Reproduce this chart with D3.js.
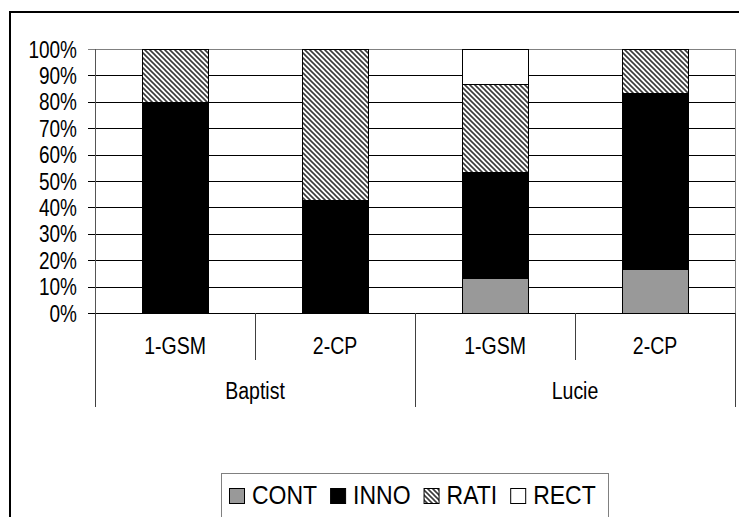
<!DOCTYPE html>
<html>
<head>
<meta charset="utf-8">
<script src="https://cdn.jsdelivr.net/npm/d3@7"></script>
<style>
  html, body { margin: 0; padding: 0; background: #fff; }
  svg { display: block; }
  text { font-family: "Liberation Sans", Arial, sans-serif; fill: #000; }
</style>
</head>
<body>
<svg id="chart" width="739" height="517"></svg>
<script>
// ---- data ----
const groups = ["Baptist", "Baptist", "Lucie", "Lucie"];
const subcats = ["1-GSM", "2-CP", "1-GSM", "2-CP"];
const groupNames = ["Baptist", "Lucie"];
const seriesNames = ["CONT", "INNO", "RATI", "RECT"];
const CONT = [0, 0, 13.3, 16.7];
const INNO = [80, 42.9, 40, 66.7];
const RATI = [20, 57.1, 33.4, 16.6];
const RECT = [0, 0, 13.3, 0];
const yTicks = [0, 10, 20, 30, 40, 50, 60, 70, 80, 90, 100];

// ---- layout ----
const svg = d3.select("#chart");
const W = 739, H = 517;
const plot = { left: 95, right: 735, top: 49, bottom: 313 };
const axisBottom = 407, subTickBottom = 360;

svg.append("rect").attr("width", W).attr("height", H).attr("fill", "#fff");

const defs = svg.append("defs");
const pat = defs.append("pattern").attr("id", "hatch")
  .attr("patternUnits", "userSpaceOnUse").attr("width", 5).attr("height", 5);
pat.append("rect").attr("width", 5).attr("height", 5).attr("fill", "#fff");
pat.append("path").attr("d", "M-1,-1 L6,6 M-1,4 L1,6 M4,-1 L6,1")
  .attr("stroke", "#3a3a3a").attr("stroke-width", 1.6);

const fills = { CONT: "#999999", INNO: "#000000", RATI: "url(#hatch)", RECT: "#ffffff" };
const seriesData = { CONT, INNO, RATI, RECT };

// outer chart border
svg.append("rect").attr("x", 10).attr("y", 12).attr("width", 760).attr("height", 540)
  .attr("fill", "none").attr("stroke", "#000").attr("stroke-width", 2);

const keys = groups.map((g, i) => g + "|" + subcats[i]);
const x = d3.scaleBand().domain(keys).range([plot.left, plot.right])
  .paddingInner(0.5875).paddingOuter(0.29375);
const y = d3.scaleLinear().domain([0, 100]).range([plot.bottom, plot.top]);

// gridlines + y labels via axis
const yAxis = d3.axisLeft(y).tickValues(yTicks).tickFormat(d => d + "%")
  .tickSize(plot.right - 88).tickPadding(11);
const yg = svg.append("g").attr("transform", `translate(${plot.right},0)`).call(yAxis);
yg.select(".domain").remove();
yg.selectAll("line").attr("stroke", d => d === 100 ? "#808080" : "#000").attr("stroke-width", 1)
  .attr("shape-rendering", "crispEdges");
yg.selectAll("text").attr("font-size", 19).attr("font-family", "Liberation Sans, Arial, sans-serif")
  .attr("fill", "#000").attr("transform", "scale(1,1.25)").attr("dy", "0.34em");

// stacked bars
const rows = keys.map((k, i) => {
  const o = { key: k };
  seriesNames.forEach(s => o[s] = seriesData[s][i]);
  return o;
});
const stack = d3.stack().keys(seriesNames)(rows);
stack.forEach(layer => {
  svg.append("g").selectAll("rect").data(layer.filter(d => d[1] - d[0] > 0)).join("rect")
    .attr("x", d => Math.round(x(d.data.key)) + 0.5)
    .attr("width", Math.round(x.bandwidth()))
    .attr("y", d => Math.round(y(d[1])) + 0.5)
    .attr("height", d => Math.round(y(d[0])) - Math.round(y(d[1])))
    .attr("fill", fills[layer.key])
    .attr("stroke", "#000").attr("stroke-width", 1);
});

// plot area right border
svg.append("line").attr("x1", plot.right + 0.5).attr("x2", plot.right + 0.5)
  .attr("y1", plot.top).attr("y2", plot.bottom).attr("stroke", "#808080");

// y axis line
svg.append("line").attr("x1", plot.left + 0.5).attr("x2", plot.left + 0.5)
  .attr("y1", plot.top).attr("y2", plot.bottom).attr("stroke", "#555");

// category axis
svg.append("line").attr("x1", 88).attr("x2", plot.right).attr("y1", plot.bottom + 0.5).attr("y2", plot.bottom + 0.5)
  .attr("stroke", "#000");
const step = x.step();
const bounds = d3.range(keys.length + 1).map(i => plot.left + i * step);
bounds.forEach((bx, i) => {
  const isGroupEdge = i === 0 || i === keys.length || groups[i] !== groups[i - 1];
  svg.append("line").attr("x1", Math.round(bx) + 0.5).attr("x2", Math.round(bx) + 0.5)
    .attr("y1", plot.bottom).attr("y2", isGroupEdge ? axisBottom : subTickBottom)
    .attr("stroke", "#404040");
});

function stretchedText(tx, ty, str, size, sy) {
  return svg.append("text").attr("transform", `translate(${tx},${ty}) scale(1,${sy})`)
    .attr("text-anchor", "middle").attr("dy", "0.36em").attr("font-size", size).text(str);
}
keys.forEach((k, i) => stretchedText(x(k) + x.bandwidth() / 2, 345, subcats[i], 19.5, 1.25));
groupNames.forEach(g => {
  const idx = groups.map((gg, i) => gg === g ? i : -1).filter(i => i >= 0);
  const cx = (x(keys[idx[0]]) + x(keys[idx[idx.length - 1]]) + x.bandwidth()) / 2;
  stretchedText(cx, 390, g, 19.5, 1.25);
});

// legend
svg.append("rect").attr("x", 221.5).attr("y", 473.5).attr("width", 387).attr("height", 60)
  .attr("fill", "#fff").attr("stroke", "#808080");
const lg = svg.append("g");
let cx = 0;
const sw = 15, lgY = 495;
seriesNames.forEach((s, i) => {
  lg.append("rect").attr("x", cx + 0.5).attr("y", lgY - 7 + 0.5).attr("width", sw).attr("height", sw)
    .attr("fill", fills[s]).attr("stroke", "#000");
  cx += sw + 8;
  const t = lg.append("text").attr("transform", `translate(${cx},${lgY}) scale(1,1.1)`)
    .attr("dy", "0.36em").attr("font-size", 23).text(s);
  cx += t.node().getComputedTextLength() + 13;
});
const total = cx - 13;
lg.attr("transform", `translate(${Math.round(412.5 - total / 2)},0)`);
</script>
</body>
</html>
